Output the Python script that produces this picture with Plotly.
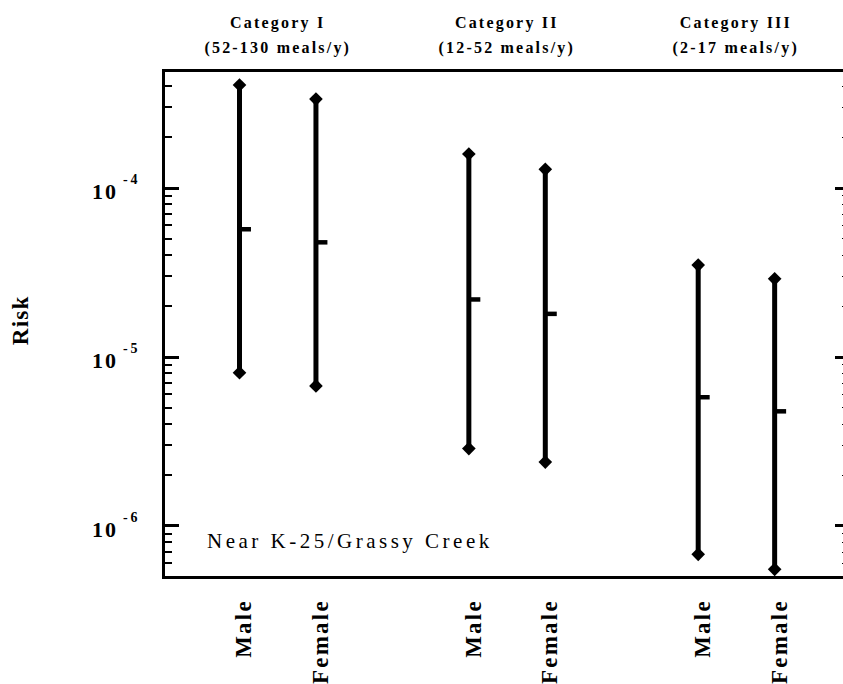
import plotly.graph_objects as go

# ---- data ----
sex_labels = ["Male", "Female", "Male", "Female", "Male", "Female"]
positions = [0, 1, 3, 4, 6, 7]
risk_high = [4.07e-4, 3.36e-4, 1.59e-4, 1.29e-4, 3.50e-5, 2.90e-5]
risk_mid = [5.70e-5, 4.77e-5, 2.19e-5, 1.80e-5, 5.78e-6, 4.77e-6]
risk_low = [8.07e-6, 6.74e-6, 2.87e-6, 2.39e-6, 6.80e-7, 5.54e-7]
category_names = ["Category I", "Category II", "Category III"]
category_ranges = ["(52-130 meals/y)", "(12-52 meals/y)", "(2-17 meals/y)"]
category_centers = [0.5, 3.5, 6.5]
site_label = "Near K-25/Grassy Creek"
y_title = "Risk"
y_tick_vals = [1e-6, 1e-5, 1e-4]
y_tick_exps = ["-6", "-5", "-4"]

FONT = "Liberation Serif"
LABEL_SHIFT = 0.059   # horizontal nudge of the rotated category labels

minor_vals = [m * 10.0 ** e for e in range(-7, -2) for m in range(2, 10)]
y_tick_text = [f"10<sup>{e}</sup>" for e in y_tick_exps]

# vertical range lines
vx, vy = [], []
for p, lo, hi in zip(positions, risk_low, risk_high):
    vx += [p, p, None]
    vy += [lo, hi, None]

# median dashes
mx, my = [], []
for p, m in zip(positions, risk_mid):
    mx += [p, p + 0.15, None]
    my += [m, m, None]

fig = go.Figure()
fig.add_trace(go.Scatter(x=vx, y=vy, mode="lines",
                         line=dict(color="black", width=5),
                         showlegend=False, hoverinfo="skip"))
fig.add_trace(go.Scatter(x=mx, y=my, mode="lines",
                         line=dict(color="black", width=4.5),
                         showlegend=False, hoverinfo="skip"))
fig.add_trace(go.Scatter(x=positions + positions, y=risk_low + risk_high,
                         mode="markers",
                         marker=dict(symbol="diamond", size=10.5, color="black"),
                         cliponaxis=False, showlegend=False))
fig.add_trace(go.Scatter(x=[None], y=[None], yaxis="y2",
                         showlegend=False, hoverinfo="skip"))

y_range = [-6.2959, -3.3136]

fig.update_layout(
    width=843, height=684,
    margin=dict(l=165, r=0, t=72, b=108),
    paper_bgcolor="white", plot_bgcolor="white",
    font=dict(family=FONT, color="black"),
    xaxis=dict(
        range=[-0.9745, 7.894],
        showline=True, linewidth=3, linecolor="black", mirror=True,
        showgrid=False, zeroline=False, ticks="",
        tickmode="array", tickvals=[p + LABEL_SHIFT for p in positions],
        ticktext=sex_labels,
        tickangle=-90, ticklabelstandoff=11,
        tickfont=dict(family=FONT, size=23, weight="bold", color="black"),
    ),
    yaxis=dict(
        type="log", range=y_range,
        showline=True, linewidth=3, linecolor="black",
        showgrid=False, zeroline=False,
        ticks="inside", ticklen=14, tickwidth=3, tickcolor="black",
        tickmode="array", tickvals=y_tick_vals, ticktext=y_tick_text,
        ticklabelstandoff=17,
        tickfont=dict(family=FONT, size=22, weight="bold", color="black"),
        minor=dict(ticks="inside", ticklen=7, tickwidth=2, tickcolor="black",
                   tickmode="array", tickvals=minor_vals, showgrid=False),
    ),
    yaxis2=dict(
        type="log", range=y_range, overlaying="y", side="right", anchor="x",
        showline=False, showgrid=False, zeroline=False, showticklabels=False,
        ticks="inside", ticklen=8, tickwidth=3, tickcolor="black",
        tickmode="array", tickvals=y_tick_vals,
        minor=dict(ticks="inside", ticklen=1.5, tickwidth=1, tickcolor="black",
                   tickmode="array", tickvals=minor_vals, showgrid=False),
    ),
)

ann = []
for c, name, rng in zip(category_centers, category_names, category_ranges):
    ann.append(dict(x=c, xref="x", y=1.097, yref="paper", showarrow=False,
                    text=name, xanchor="center", yanchor="middle",
                    font=dict(family=FONT, size=16, weight="bold", color="black")))
    ann.append(dict(x=c, xref="x", y=1.0476, yref="paper", showarrow=False,
                    text=rng, xanchor="center", yanchor="middle",
                    font=dict(family=FONT, size=16, weight="bold", color="black")))
ann.append(dict(x=0.0597, xref="paper", y=0.069, yref="paper", showarrow=False,
                text=site_label, xanchor="left", yanchor="middle", align="left",
                font=dict(family=FONT, size=21, color="black")))
ann.append(dict(x=-0.2131, xref="paper", y=0.5075, yref="paper", showarrow=False,
                text=y_title, textangle=-90,
                xanchor="center", yanchor="middle",
                font=dict(family=FONT, size=23, weight="bold", color="black")))
fig.update_layout(annotations=ann)

css = (
    ".xtick text{letter-spacing:2.2px}"
    ".ytick text{letter-spacing:2px}"
    ".annotation text{letter-spacing:2.2px}"
    ".annotation[data-index='6'] text{letter-spacing:3.5px}"
    ".annotation[data-index='7'] text{letter-spacing:1.2px}"
)
post = (
    "var s=document.createElement('style');s.textContent=\"" + css + "\";"
    "document.head.appendChild(s);"
    "document.querySelectorAll('.ytick text').forEach(function(t){"
    "var y=parseFloat(t.getAttribute('y'));if(!isNaN(y)){t.setAttribute('y',y+3);}"
    "t.querySelectorAll('tspan').forEach(function(sp){"
    "var st=sp.getAttribute('style')||'';"
    "if(st.indexOf('70%')>=0){sp.style.fontSize='14px';sp.setAttribute('dy','-1.07em');"
    "sp.setAttribute('dx','5');sp.style.letterSpacing='3px';}"
    "else if(!sp.textContent.replace(/[\\u200b\\s]/g,'')){sp.parentNode.removeChild(sp);}"
    "});});"
)

fig.write_html("out.html", post_script=post)
